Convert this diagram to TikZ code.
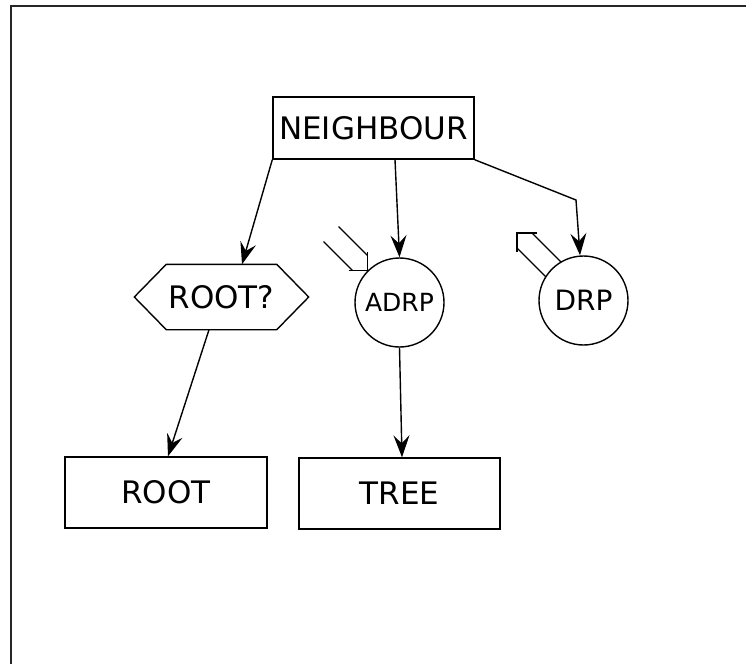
\documentclass[tikz,border=0pt]{standalone}
\usepackage{fontspec}
\setmainfont{DejaVu Sans}
\usetikzlibrary{arrows.meta}
\begin{document}
\begin{tikzpicture}[x=1pt,y=-1pt,
  every node/.style={inner sep=0pt, line width=1.4pt},
  boxnode/.style={draw, rectangle, font=\fontsize{31}{37}\selectfont},
  hexnode/.style={rectangle, minimum width=173pt, minimum height=64pt,
    font=\fontsize{31}{37}\selectfont},
  circnode/.style={draw, circle, minimum size=89pt},
  link/.style={line width=1.4pt, -{Stealth[length=22pt,width=16pt,inset=8pt]}},
  hollow/.style={line width=1.3pt, line cap=butt}]
\useasboundingbox (0,0) rectangle (746,664);
% page frame
\draw[line width=2pt, black!85] (11,664) -- (11,6) -- (746,6);

% nodes
\node[boxnode, minimum width=201pt, minimum height=62pt] (neighbour) at (373.5,128) {NEIGHBOUR};
\node[hexnode] (rootq) at (221.5,297) {ROOT?};
\draw[line width=1.4pt] (rootq.west) -- ([xshift=32pt]rootq.north west)
  -- ([xshift=-32pt]rootq.north east) -- (rootq.east)
  -- ([xshift=-32pt]rootq.south east) -- ([xshift=32pt]rootq.south west) -- cycle;
\node[circnode, font=\fontsize{25}{30}\selectfont] (adrp) at (399.5,302.5) {ADRP};
\node[circnode, font=\fontsize{28}{34}\selectfont] (drp) at (583.5,300.5) {DRP};
\node[boxnode, minimum width=202pt, minimum height=71pt] (root) at (166,492.5) {ROOT};
\node[boxnode, minimum width=201pt, minimum height=71pt] (tree) at (399.5,493.5) {TREE};

% connectors
\coordinate (bend) at (576,200);
\draw[link] (neighbour.south west) -- ([xshift=20.5pt]rootq.north);
\draw[link] ([xshift=21.5pt]neighbour.south) -- (adrp.north);
\draw[link] (neighbour.south east) -- (bend) -- ([xshift=-3.5pt]drp.north);
\draw[link] ([xshift=-12.5pt]rootq.south) -- ([xshift=2pt]root.north);
\draw[link] (adrp.south) -- ([xshift=2.5pt]tree.north);

% hollow arrow entering ADRP
\coordinate (adrpin) at (adrp.135);
\draw[hollow] ([xshift=-19pt]adrpin) -- (adrpin) -- ([yshift=19pt]adrpin);
\draw[hollow] ([xshift=-15pt]adrpin) -- ++(-29,-29);
\draw[hollow] ([yshift=15pt]adrpin) -- ++(-29,-29);

% hollow arrow leaving DRP
\coordinate (drpout) at (517,233);
\draw[hollow] ([xshift=20pt]drpout) -- (drpout) -- ([yshift=-19pt]drpout);
\draw[hollow] ([yshift=-15pt]drpout) -- ++(29,29);
\draw[hollow] ([xshift=15pt]drpout) -- ++(29,29);
\end{tikzpicture}
\end{document}
